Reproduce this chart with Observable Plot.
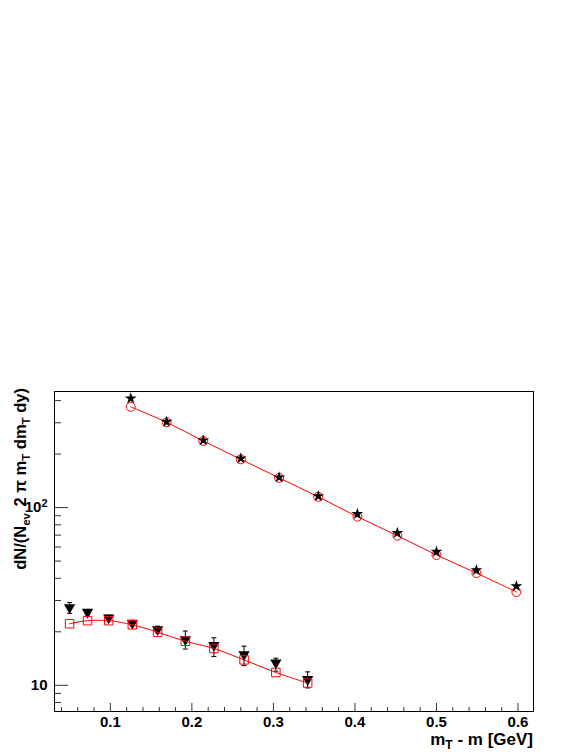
<!DOCTYPE html>
<html>
<head>
<meta charset="utf-8">
<script src="https://cdn.jsdelivr.net/npm/d3@7"></script>
<script src="https://cdn.jsdelivr.net/npm/@observablehq/plot@0.6"></script>
<style>
  html, body { margin: 0; padding: 0; background: white; }
  #chart svg { display: block; }
</style>
</head>
<body>
<div id="chart"></div>
<script>
// ---- data ----
const upperX      = [0.125, 0.169, 0.214, 0.260, 0.307, 0.355, 0.403, 0.452, 0.500, 0.549, 0.598];
const upperCircle = [369, 302, 237, 187, 147, 115, 88.9, 69.5, 54.1, 42.8, 33.5];
const upperStar   = [411, 304, 239, 189, 148, 116, 92, 72, 56.4, 44.5, 36.1];

const lowerX      = [0.050, 0.072, 0.098, 0.127, 0.158, 0.192, 0.227, 0.264, 0.303, 0.342];
const lowerSquare = [22.2, 23.1, 23.1, 21.9, 19.9, 17.7, 16.1, 13.9, 11.8, 10.3];
const lowerTri    = [27.4, 25.8, 24.0, 22.4, 20.6, 18.1, 16.8, 14.9, 13.4, 10.8];
const lowerTriLo  = [25.4, 24.9, 23.2, 21.6, 19.7, 16.0, 14.5, 12.9, 12.0, 9.66];
const lowerTriHi  = [29.2, 26.7, 24.8, 23.2, 21.5, 20.2, 18.5, 16.6, 14.2, 11.9];

const xDomain = [0.0315, 0.619];
const yDomain = [7.12, 450];
const xMajorTicks = [0.1, 0.2, 0.3, 0.4, 0.5, 0.6];
const xMinorTicks = [0.04,0.06,0.08,0.12,0.14,0.16,0.18,0.22,0.24,0.26,0.28,0.32,0.34,0.36,0.38,0.42,0.44,0.46,0.48,0.52,0.54,0.56,0.58];
const yMajorTicks = [10, 100];
const yMajorBase = ["10", "10"];
const yMajorExp  = ["", "2"];
const yMinorTicks = [8, 9, 20, 30, 40, 50, 60, 70, 80, 90, 200, 300, 400];

// ---- tables built from the arrays ----
const upper = upperX.map((x, i) => ({x, circle: upperCircle[i], star: upperStar[i]}));
const lower = lowerX.map((x, i) => ({x, square: lowerSquare[i], tri: lowerTri[i], lo: lowerTriLo[i], hi: lowerTriHi[i]}));

const W = 581, H = 752;
const mTop = 391, mBottom = 41, mLeft = 54, mRight = 48;
const frameW = W - mLeft - mRight, frameH = H - mTop - mBottom;

const capSymbol = { draw(ctx, size) { const w = 2.5; ctx.moveTo(-w, 0); ctx.lineTo(w, 0); } };

const plot = Plot.plot({
  width: W, height: H,
  marginTop: mTop, marginBottom: mBottom, marginLeft: mLeft, marginRight: mRight,
  style: { fontFamily: "'Liberation Sans', Arial, sans-serif", fontSize: "15px", fontWeight: "bold", background: "white", color: "black" },
  x: { domain: xDomain },
  y: { type: "log", domain: yDomain },
  marks: [
    Plot.tickX(xMajorTicks, { x: d => d, insetTop: frameH - 8, stroke: "#333", strokeWidth: 1 }),
    Plot.tickX(xMinorTicks, { x: d => d, insetTop: frameH - 4, stroke: "#333", strokeWidth: 1 }),
    Plot.tickY(yMajorTicks, { y: d => d, insetRight: frameW - 14, stroke: "#333", strokeWidth: 1 }),
    Plot.tickY(yMinorTicks, { y: d => d, insetRight: frameW - 7, stroke: "#333", strokeWidth: 1 }),
    Plot.axisX(xMajorTicks, { tickSize: 0, tickPadding: 5, tickFormat: d3.format(".1f"), label: null, fontSize: 15, fontWeight: "bold" }),
    Plot.axisY(yMajorTicks, { tickSize: 0, tickPadding: 7, tickFormat: d => yMajorBase[yMajorTicks.indexOf(d)], label: null, fontSize: 15, fontWeight: "bold" }),
    Plot.frame({ stroke: "black", strokeWidth: 1 }),

    Plot.ruleX(lower, { x: "x", y1: "lo", y2: "hi", stroke: "black", strokeWidth: 1 }),
    Plot.dot(lower, { x: "x", y: "lo", symbol: capSymbol, r: 3, stroke: "black", strokeWidth: 1 }),
    Plot.dot(lower, { x: "x", y: "hi", symbol: capSymbol, r: 3, stroke: "black", strokeWidth: 1 }),
    Plot.dot(lower, { x: "x", y: "tri", symbol: "triangle", rotate: 180, r: 4.2, fill: "black", stroke: "none" }),
    Plot.line(lower, { x: "x", y: "square", curve: "catmull-rom", stroke: "#ff0000", strokeWidth: 1 }),
    Plot.dot(lower, { x: "x", y: "square", symbol: "square", r: 4.8, fill: "none", stroke: "#ff0000", strokeWidth: 1 }),

    Plot.line(upper, { x: "x", y: "circle", curve: "catmull-rom", stroke: "#ff0000", strokeWidth: 1 }),
    Plot.dot(upper, { x: "x", y: "circle", symbol: "circle", r: 4.5, fill: "none", stroke: "#ff0000", strokeWidth: 1 }),
    Plot.dot(upper, { x: "x", y: "star", symbol: "star", r: 3.7, fill: "black", stroke: "none" })
  ]
});

document.getElementById("chart").appendChild(plot);

const svg = d3.select(plot);
const font = "'Liberation Sans', Arial, sans-serif";

// superscript exponent on the 10^2 label
svg.selectAll("g[aria-label='y-axis tick label'] text").each(function(d, i) {
  const exp = yMajorExp[i];
  if (exp) {
    d3.select(this).append("tspan").attr("dy", "-0.45em").attr("font-size", 11).text(exp);
  }
});

const xt = svg.append("text")
  .attr("x", W - mRight).attr("y", 745)
  .attr("text-anchor", "end")
  .attr("font-family", font).attr("font-size", 17).attr("font-weight", "bold").attr("fill", "black");
xt.append("tspan").text("m");
xt.append("tspan").attr("dy", 4).attr("font-size", 12).text("T");
xt.append("tspan").attr("dy", -4).text(" - m [GeV]");

const yt = svg.append("text")
  .attr("transform", `translate(26, 388) rotate(-90)`)
  .attr("text-anchor", "end")
  .attr("font-family", font).attr("font-size", 16.5).attr("font-weight", "bold").attr("fill", "black");
yt.append("tspan").text("dN/(N");
yt.append("tspan").attr("dy", 4).attr("font-size", 11.5).text("ev");
yt.append("tspan").attr("dy", -4).attr("dx", 2).text(" 2 \u03C0 m");
yt.append("tspan").attr("dy", 4).attr("font-size", 11.5).text("T");
yt.append("tspan").attr("dy", -4).text(" dm");
yt.append("tspan").attr("dy", 4).attr("font-size", 11.5).text("T");
yt.append("tspan").attr("dy", -4).text(" dy)");
</script>
</body>
</html>
